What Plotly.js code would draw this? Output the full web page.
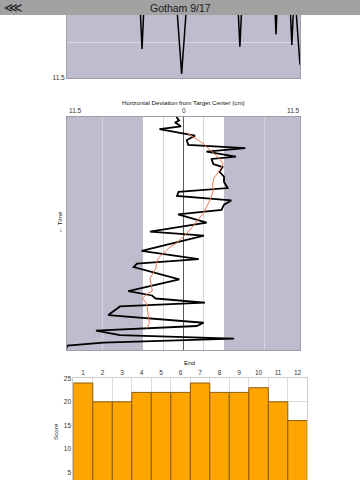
<!DOCTYPE html>
<html>
<head>
<meta charset="utf-8">
<script src="https://cdn.plot.ly/plotly-3.0.1.min.js"></script>
<style>
html,body{margin:0;padding:0;background:#fff;}
#chart{width:360px;height:480px;}
</style>
</head>
<body>
<div id="chart"></div>
<script>
// ---- data ----
// top panel: vertical deviation (cm) over time
const topTime = [0, 10, 20, 30.7, 32.2, 33.7, 40, 46.2, 49.2, 52.2, 60, 72.7, 74.2, 75.7, 82, 88.9, 89.7, 90.5, 95.3, 96.5, 97.7, 98.2, 100];
const topVert = [1.2, -1.5, 0.8, -1.0, -8.64, -1.0, 1.5, -1.5, -11.1, -1.5, 0.5, -1.0, -8.4, -1.0, 1.0, -2.5, -7.2, -2.5, -2.0, -8.24, -2.0, -4.5, -10.2];

// middle panel: horizontal deviation (cm) over time
const hTime = [0, 1.5, 2.4, 4.0, 5.2, 7.3, 8.0, 9.9, 12.0, 13.4, 14.9, 17.0, 18.0, 20.2, 21.5, 23.5, 25.6, 27.9, 30.5, 32.1, 33.9, 35.8, 37.6, 39.9, 41.8, 45.3, 49.2, 50.9, 57.5, 61.0, 62.9, 64.4, 69.7, 74.7, 76.6, 77.9, 79.7, 81.3, 85.0, 88.3, 89.7, 91.7, 93.6, 95.1, 96.8, 98.1, 100];
const hDev = [-0.7, -0.44, -0.84, -0.25, -2.37, 0.05, 1.14, 0.32, 0.47, 6.10, 2.27, 5.18, 2.78, 2.94, 3.85, 3.55, 4.0, 4.0, 4.36, -0.49, -0.64, 4.72, 4.0, 3.75, -0.54, 2.29, -3.31, 2.02, -4.13, 1.50, -4.59, -4.92, -0.41, -5.45, -3.11, -2.76, 2.12, -6.27, -7.42, 1.99, 1.30, -8.64, -6.27, 4.99, -7.92, -11.47, -11.6];

// middle panel: running average
const avgTime = [6.7, 9.4, 11.4, 14.2, 17.2, 20.0, 22.7, 26.2, 29.2, 31.3, 35.6, 41.3, 45.5, 48.5, 51.5, 54.3, 55.8, 57.8, 60.6, 62.7, 64.9, 69.2, 74.7, 75.7, 77.8, 80.0, 84.2, 88.5, 90.7];
const avgDev = [0.32, 1.23, 1.95, 2.62, 3.41, 3.90, 3.60, 3.01, 2.86, 2.96, 2.62, 1.95, 1.23, 0.64, -0.05, -0.74, -1.33, -1.83, -2.49, -2.67, -2.71, -3.31, -3.08, -3.53, -4.07, -3.63, -3.47, -3.38, -3.63];

// bottom panel: score per end
const ends = ['1','2','3','4','5','6','7','8','9','10','11','12'];
const scores = [24, 20, 20, 22, 22, 22, 24, 22, 22, 23, 20, 16];

const devTickVals = [-11.5, 0, 11.5];
const devTickText = ['11.5', '0', '11.5'];

// ---- layout helpers ----
const W = 360, H = 480;
const px = x => x / W;
const py = y => 1 - y / H;
const FONT = 'Liberation Sans, Arial, sans-serif';
const GRAY = '#bdbdce';

const traces = [
  {x: topTime, y: topVert, xaxis: 'x', yaxis: 'y', type: 'scatter', mode: 'lines',
   line: {color: '#000', width: 1.5}, hoverinfo: 'skip'},
  {x: hDev, y: hTime, xaxis: 'x2', yaxis: 'y2', type: 'scatter', mode: 'lines',
   line: {color: '#000', width: 1.8}, hoverinfo: 'skip'},
  {x: avgDev, y: avgTime, xaxis: 'x2', yaxis: 'y2', type: 'scatter', mode: 'lines',
   line: {color: '#f07a52', width: 1}, hoverinfo: 'skip'},
  {x: ends, y: scores, xaxis: 'x3', yaxis: 'y3', type: 'bar',
   marker: {color: '#ffa500', line: {color: '#8a5c10', width: 1}}, hoverinfo: 'skip'}
];

const small = {family: FONT, size: 6.5, color: '#333'};

const layout = {
  width: W, height: H,
  margin: {l: 0, r: 0, t: 0, b: 0},
  paper_bgcolor: '#fff', plot_bgcolor: 'rgba(0,0,0,0)',
  showlegend: false,
  bargap: 0,
  font: {family: FONT, size: 6.5, color: '#333'},
  // top panel
  xaxis: {domain: [px(67), px(300)], range: [0, 100], showticklabels: false, showgrid: false,
          zeroline: false, ticks: '', showline: true, mirror: true, linecolor: '#9d9dab', linewidth: 1, anchor: 'y'},
  yaxis: {domain: [py(78), 1], range: [-11.5, -3.8], tickvals: [-11.5, -8], ticktext: ['11.5', ''],
          showgrid: true, gridcolor: '#dadae4', gridwidth: 1, zeroline: false, ticks: '',
          tickfont: small, showline: true, mirror: true, linecolor: '#9d9dab', linewidth: 1, anchor: 'x'},
  // middle panel
  xaxis2: {domain: [px(67), px(300)], range: [-11.5, 11.5], tickvals: [-8, -2, 0, 2, 8],
           showticklabels: false, showgrid: true, gridcolor: '#d3d3dc', gridwidth: 1,
           zeroline: true, zerolinecolor: '#5a5a5a', zerolinewidth: 1, ticks: '',
           showline: true, mirror: true, linecolor: '#9d9dab', linewidth: 1, anchor: 'y2'},
  yaxis2: {domain: [py(350), py(117)], range: [100, 0], showticklabels: false, showgrid: false,
           zeroline: false, ticks: '', showline: true, mirror: true, linecolor: '#9d9dab', linewidth: 1, anchor: 'x2'},
  // bottom panel
  xaxis3: {domain: [px(73.3), px(307.3)], type: 'category', side: 'top', tickson: 'boundaries',
           showgrid: true, gridcolor: '#dddddd', ticks: '', tickfont: small,
           showline: true, mirror: true, linecolor: '#cccccc', linewidth: 1, anchor: 'y3'},
  yaxis3: {domain: [0, py(378.3)], range: [3.36, 25], tickvals: [5, 10, 15, 20, 25],
           showgrid: true, gridcolor: '#dddddd', zeroline: false, ticks: '', tickfont: small,
           showline: true, mirror: true, linecolor: '#cccccc', linewidth: 1, anchor: 'x3'},
  shapes: [
    // top panel background
    {type: 'rect', xref: 'x domain', yref: 'y domain', x0: 0, x1: 1, y0: 0, y1: 1,
     fillcolor: GRAY, line: {width: 0}, layer: 'below'},
    // middle panel outer rings
    {type: 'rect', xref: 'x2', yref: 'y2 domain', x0: -11.5, x1: -4, y0: 0, y1: 1,
     fillcolor: GRAY, line: {width: 0}, layer: 'below'},
    {type: 'rect', xref: 'x2', yref: 'y2 domain', x0: 4, x1: 11.5, y0: 0, y1: 1,
     fillcolor: GRAY, line: {width: 0}, layer: 'below'},
    // header bar
    {type: 'rect', xref: 'paper', yref: 'paper', x0: 0, x1: 1, y0: py(15), y1: 1,
     fillcolor: '#a2a2a2', line: {width: 0}, layer: 'above'}
  ],
  annotations: [
    {text: 'Gotham 9/17', xref: 'paper', yref: 'paper', x: 0.5, y: py(7.5),
     xanchor: 'center', yanchor: 'middle', showarrow: false,
     font: {family: FONT, size: 10.5, color: '#1a1a1a'}},
    {text: '⋘', xref: 'paper', yref: 'paper', x: px(2), y: py(7.5),
     xanchor: 'left', yanchor: 'middle', showarrow: false,
     font: {family: 'DejaVu Sans', size: 13, color: '#1a1a1a'}},
    {text: 'Horizontal Deviation from Target Center (cm)', xref: 'x2', yref: 'paper', x: 0, y: py(102.5),
     xanchor: 'center', yanchor: 'middle', showarrow: false, font: {family: FONT, size: 6.2, color: '#111'}},
    {text: devTickText[0], xref: 'x2', yref: 'paper', x: devTickVals[0], y: py(111),
     xanchor: 'left', yanchor: 'middle', showarrow: false, font: small},
    {text: devTickText[1], xref: 'x2', yref: 'paper', x: devTickVals[1], y: py(111),
     xanchor: 'center', yanchor: 'middle', showarrow: false, font: small},
    {text: devTickText[2], xref: 'x2', yref: 'paper', x: devTickVals[2], y: py(111),
     xanchor: 'right', yanchor: 'middle', showarrow: false, font: small, xshift: 2},
    {text: '← Time', xref: 'paper', yref: 'paper', x: px(59), y: py(222), textangle: -90,
     xanchor: 'center', yanchor: 'middle', showarrow: false, font: {family: FONT, size: 6.2, color: '#111'}},
    {text: 'End', xref: 'x3 domain', yref: 'paper', x: 0.5, y: py(362.3),
     xanchor: 'center', yanchor: 'middle', showarrow: false, font: {family: FONT, size: 6.2, color: '#111'}},
    {text: 'Score', xref: 'paper', yref: 'paper', x: px(55), y: py(432), textangle: -90,
     xanchor: 'center', yanchor: 'middle', showarrow: false, font: {family: FONT, size: 6.2, color: '#111'}}
  ]
};

Plotly.newPlot('chart', traces, layout, {staticPlot: true, displayModeBar: false});
</script>
</body>
</html>
